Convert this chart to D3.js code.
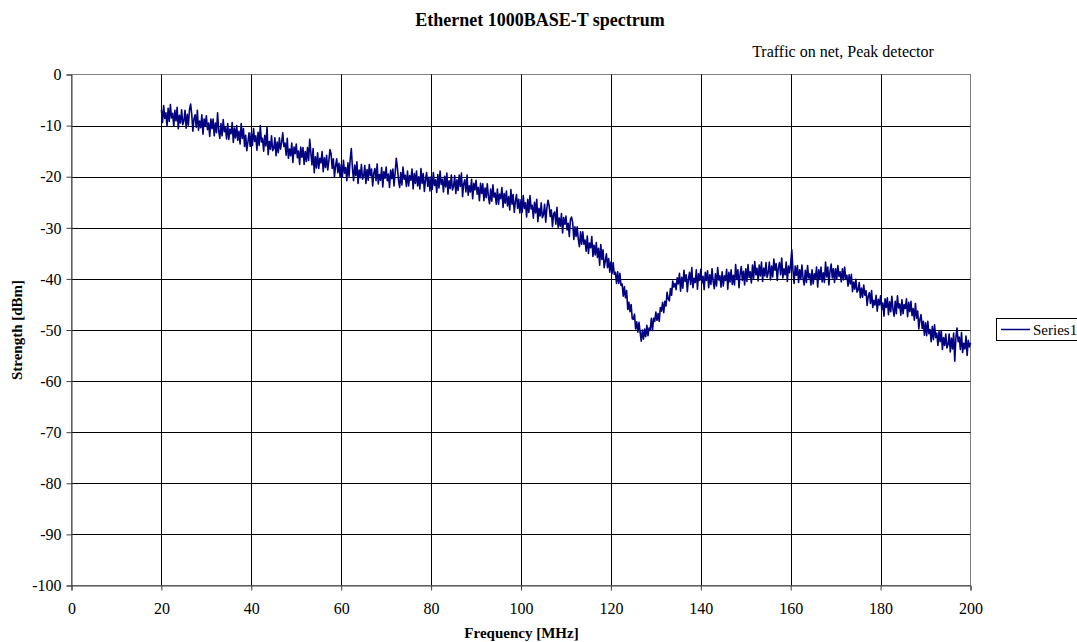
<!DOCTYPE html>
<html><head><meta charset="utf-8">
<script src="https://cdn.jsdelivr.net/npm/d3@7"></script>
<style>
html,body{margin:0;padding:0;background:#fff;}
svg text{font-family:"Liberation Serif","Times New Roman",serif;fill:#000;}
</style></head>
<body><svg id="c" width="1077" height="642"></svg>
<script>
const chartTitle = "Ethernet 1000BASE-T spectrum";
const subTitle = "Traffic on net, Peak detector";
const xAxisTitle = "Frequency [MHz]";
const yAxisTitle = "Strength [dBm]";
const seriesName = "Series1";
const xTicks = [0,20,40,60,80,100,120,140,160,180,200];
const yTicks = [0,-10,-20,-30,-40,-50,-60,-70,-80,-90,-100];
const freqStartMHz = 20;
const freqStepMHz = 0.25;
// measured strength (dBm), one row per 5 MHz
const strength = [
-6.9,-9.4,-6.1,-8.6,-7.5,-10.1,-6.6,-9.2,-5.9,-8.5,-7.6,-10.1,-7.0,-9.1,-6.4,-10.6,-8.0,-9.5,-6.9,-9.8,
-9.1,-7.0,-10.5,-7.8,-9.9,-6.9,-5.8,-7.8,-11.1,-8.6,-7.9,-10.3,-7.0,-10.9,-9.1,-10.4,-7.9,-11.7,-8.7,-10.0,
-8.1,-10.8,-9.5,-12.1,-8.7,-10.6,-8.7,-12.0,-9.5,-11.4,-7.5,-11.1,-12.5,-9.6,-12.0,-8.8,-11.2,-10.4,-12.6,-9.6,
-12.7,-10.7,-11.6,-9.4,-13.3,-10.5,-12.4,-10.0,-12.9,-11.1,-13.6,-9.6,-12.5,-10.6,-14.1,-11.9,-14.9,-13.2,-11.4,-14.1,
-11.4,-13.9,-10.6,-13.1,-12.0,-14.8,-11.3,-13.9,-10.0,-13.2,-12.5,-15.0,-11.9,-14.0,-10.3,-15.7,-13.1,-14.6,-12.0,-14.9,
-14.5,-12.4,-15.9,-13.2,-15.3,-12.4,-14.6,-13.3,-11.4,-14.1,-13.4,-15.8,-12.5,-16.4,-14.6,-15.9,-13.4,-17.2,-14.2,-15.5,
-13.6,-16.3,-15.0,-17.6,-14.2,-16.2,-14.3,-17.6,-15.1,-17.0,-14.3,-16.8,-12.7,-15.3,-17.7,-14.5,-19.2,-16.1,-18.3,-15.3,
-18.4,-16.4,-17.3,-15.1,-19.0,-16.3,-18.2,-15.8,-18.7,-16.9,-14.7,-15.5,-18.4,-16.5,-20.0,-17.9,-16.5,-19.2,-17.4,-20.1,
-17.6,-20.1,-16.8,-19.3,-18.2,-20.8,-17.3,-19.9,-16.6,-14.5,-18.3,-20.8,-17.7,-19.8,-17.1,-21.3,-18.7,-20.2,-17.6,-20.5,
-19.9,-17.8,-21.3,-18.6,-20.7,-17.6,-19.8,-18.5,-21.8,-19.3,-18.4,-20.8,-17.5,-21.4,-19.6,-20.7,-18.2,-22.0,-19.0,-20.3,
-18.1,-20.8,-19.5,-22.1,-18.7,-20.4,-18.5,-21.8,-19.3,-16.4,-18.2,-20.7,-22.1,-19.2,-21.6,-18.1,-20.5,-19.7,-21.9,-18.9,
-21.8,-19.8,-20.7,-18.5,-22.4,-19.4,-21.3,-18.9,-21.8,-20.0,-22.4,-18.4,-21.3,-19.4,-22.9,-20.6,-19.2,-21.9,-20.1,-22.8,
-20.0,-22.5,-19.2,-21.7,-20.6,-23.1,-19.6,-22.2,-18.9,-21.5,-20.5,-23.0,-19.9,-22.0,-19.3,-23.4,-20.8,-22.3,-19.7,-22.6,
-21.9,-19.8,-23.3,-20.6,-22.7,-19.7,-21.9,-19.3,-23.9,-21.4,-20.6,-23.0,-19.7,-23.6,-21.8,-23.0,-20.5,-24.3,-21.3,-22.6,
-20.7,-23.4,-22.1,-24.7,-21.3,-23.3,-21.4,-24.7,-22.2,-24.1,-21.4,-23.9,-25.3,-22.4,-24.8,-21.6,-24.0,-23.2,-25.4,-22.4,
-25.4,-23.4,-24.3,-22.1,-26.0,-23.3,-25.2,-22.8,-25.7,-23.9,-26.5,-22.5,-25.4,-23.5,-27.0,-24.9,-23.5,-26.2,-24.4,-27.1,
-24.5,-27.0,-23.7,-26.2,-25.1,-27.9,-24.4,-27.0,-23.7,-26.3,-25.6,-28.1,-25.0,-27.1,-24.4,-28.8,-26.2,-27.7,-25.1,-28.0,
-27.5,-25.4,-28.9,-26.2,-24.6,-25.6,-27.8,-26.5,-29.8,-27.3,-26.9,-29.3,-26.0,-29.9,-28.1,-29.7,-27.2,-31.0,-28.0,-29.3,
-27.7,-30.4,-29.1,-31.7,-28.3,-27.9,-29.0,-32.3,-29.8,-31.7,-29.8,-32.3,-33.7,-30.8,-33.2,-30.8,-33.2,-32.4,-34.6,-31.6,
-35.0,-33.0,-33.9,-31.7,-35.6,-33.4,-35.3,-32.9,-35.8,-34.0,-37.3,-33.3,-36.2,-34.3,-37.8,-36.5,-35.1,-37.8,-36.0,-38.7,
-36.7,-39.0,-36.8,-39.1,-38.7,-40.9,-38.6,-40.9,-38.9,-41.3,-41.0,-43.4,-41.5,-43.7,-42.3,-46.0,-44.6,-46.4,-45.0,-47.8,
-47.9,-46.9,-49.8,-48.4,-50.4,-48.5,-50.4,-52.2,-50.0,-51.8,-49.8,-51.3,-49.1,-51.1,-49.6,-49.9,-47.7,-50.1,-47.7,-48.3,
-46.5,-48.1,-46.8,-48.3,-45.6,-46.3,-44.6,-46.6,-44.4,-45.3,-42.6,-43.9,-44.3,-41.9,-43.2,-40.4,-41.6,-40.9,-42.1,-39.8,
-41.0,-38.9,-42.4,-39.7,-41.8,-38.3,-40.5,-39.2,-42.5,-40.0,-38.7,-41.1,-37.8,-41.7,-39.9,-40.7,-38.2,-42.0,-39.0,-40.3,
-38.1,-40.8,-39.5,-42.1,-38.7,-40.3,-38.4,-41.7,-39.2,-41.1,-38.0,-40.5,-41.9,-39.0,-41.4,-37.8,-40.2,-39.4,-41.6,-38.6,
-41.4,-39.4,-40.3,-38.1,-42.0,-38.7,-40.6,-38.2,-41.1,-39.3,-41.2,-37.2,-40.1,-38.2,-41.7,-39.0,-37.6,-40.3,-38.5,-41.2,
-38.0,-40.5,-37.2,-39.7,-38.6,-40.8,-37.3,-39.9,-36.6,-39.2,-37.9,-40.4,-37.3,-39.4,-36.7,-40.5,-37.9,-39.4,-36.8,-39.7,
-38.8,-36.7,-40.2,-37.5,-39.6,-36.1,-38.3,-37.0,-40.3,-37.8,-36.8,-39.2,-35.9,-39.8,-38.0,-39.2,-36.7,-40.5,-37.5,-38.8,
-36.9,-34.3,-38.3,-40.9,-37.5,-39.3,-37.4,-40.7,-38.2,-40.1,-37.3,-39.8,-41.2,-38.3,-40.7,-37.4,-39.8,-39.0,-41.2,-38.2,
-41.0,-39.0,-39.9,-37.7,-41.6,-38.2,-40.1,-37.7,-40.6,-38.8,-40.7,-36.7,-39.6,-37.7,-41.2,-38.5,-37.1,-39.8,-38.0,-40.7,
-38.0,-40.0,-37.4,-39.5,-38.6,-40.6,-38.0,-40.2,-37.7,-40.0,-39.3,-41.4,-39.2,-41.0,-39.1,-42.5,-40.6,-42.0,-40.1,-42.6,
-42.2,-40.7,-43.7,-41.8,-43.6,-41.2,-43.2,-42.3,-45.2,-43.4,-42.7,-44.8,-42.3,-45.6,-44.2,-45.1,-43.2,-46.3,-44.0,-45.1,
-43.3,-46.0,-44.7,-47.3,-43.9,-45.6,-43.7,-47.0,-44.5,-46.4,-43.4,-45.9,-47.3,-44.4,-46.8,-43.3,-45.7,-44.9,-47.1,-44.1,
-46.8,-45.0,-45.8,-43.9,-47.4,-44.6,-46.4,-44.4,-47.2,-45.8,-48.1,-44.8,-47.7,-46.3,-49.8,-47.9,-47.0,-49.7,-48.3,-51.0,
-48.6,-51.1,-48.3,-50.7,-49.9,-52.3,-49.3,-51.9,-49.0,-51.5,-50.6,-53.0,-50.3,-52.3,-50.1,-53.8,-51.5,-53.0,-50.8,-53.5,
-52.9,-50.8,-54.3,-51.6,-53.7,-50.6,-56.1,-51.5,-49.6,-52.3,-51.4,-53.8,-50.5,-54.4,-52.6,-53.7,-51.2,-55.0,-52.0,-53.3,
-52.5
];

const svg = d3.select("#c");
const L = 71.5, R = 970.5, T = 74.5, B = 585.5;
const x = d3.scaleLinear().domain([0,200]).range([L,R]);
const y = d3.scaleLinear().domain([-100,0]).range([B,T]);

// plot area border
svg.append("rect").attr("x",L).attr("y",T).attr("width",R-L).attr("height",B-T)
  .attr("fill","none").attr("stroke","#808080").attr("stroke-width",1);

// gridlines
svg.append("g").selectAll("line").data(xTicks.filter(d=>d>0 && d<200)).join("line")
  .attr("x1",d=>Math.round(x(d))+0.5).attr("x2",d=>Math.round(x(d))+0.5)
  .attr("y1",T).attr("y2",B).attr("stroke","#000").attr("stroke-width",1);
svg.append("g").selectAll("line").data(yTicks.filter(d=>d<0 && d>-100)).join("line")
  .attr("x1",L).attr("x2",R)
  .attr("y1",d=>Math.round(y(d))+0.5).attr("y2",d=>Math.round(y(d))+0.5)
  .attr("stroke","#000").attr("stroke-width",1);

// axes
const fmt = d => String(d);
const xAxis = svg.append("g").attr("transform",`translate(0,${B})`)
  .call(d3.axisBottom(x).tickValues(xTicks).tickSize(5).tickPadding(12).tickFormat(fmt));
const yAxis = svg.append("g").attr("transform",`translate(${L},0)`)
  .call(d3.axisLeft(y).tickValues(yTicks).tickSize(5).tickPadding(5).tickFormat(fmt));
[xAxis,yAxis].forEach(a=>{
  a.selectAll("path").attr("stroke","#404040");
  a.selectAll("line").attr("stroke","#404040");
  a.selectAll("text").attr("font-size",16).attr("fill","#000");
});
yAxis.selectAll("text").attr("dy","0.33em");

// series line
const pts = strength.map((v,i)=>[freqStartMHz + i*freqStepMHz, v]);
svg.append("path").datum(pts)
  .attr("fill","none").attr("stroke","#000080").attr("stroke-width",1.6)
  .attr("stroke-linejoin","round")
  .attr("d", d3.line().x(d=>x(d[0])).y(d=>y(d[1])));

// titles
svg.append("text").attr("x",540).attr("y",26).attr("text-anchor","middle")
  .attr("font-size",18).attr("font-weight","bold").text(chartTitle);
svg.append("text").attr("x",843).attr("y",57).attr("text-anchor","middle")
  .attr("font-size",16).text(subTitle);
svg.append("text").attr("x",521.5).attr("y",638).attr("text-anchor","middle")
  .attr("font-size",15).attr("font-weight","bold").text(xAxisTitle);
svg.append("text").attr("transform","translate(22,330) rotate(-90)").attr("text-anchor","middle")
  .attr("font-size",15).attr("font-weight","bold").text(yAxisTitle);

// legend
const lg = svg.append("g");
lg.append("rect").attr("x",996.5).attr("y",318.5).attr("width",85).attr("height",22)
  .attr("fill","#fff").attr("stroke","#000").attr("stroke-width",1);
lg.append("line").attr("x1",1001).attr("x2",1030).attr("y1",329.5).attr("y2",329.5)
  .attr("stroke","#000080").attr("stroke-width",1.5);
lg.append("text").attr("x",1033).attr("y",334.5).attr("font-size",15).text(seriesName);
</script></body></html>
